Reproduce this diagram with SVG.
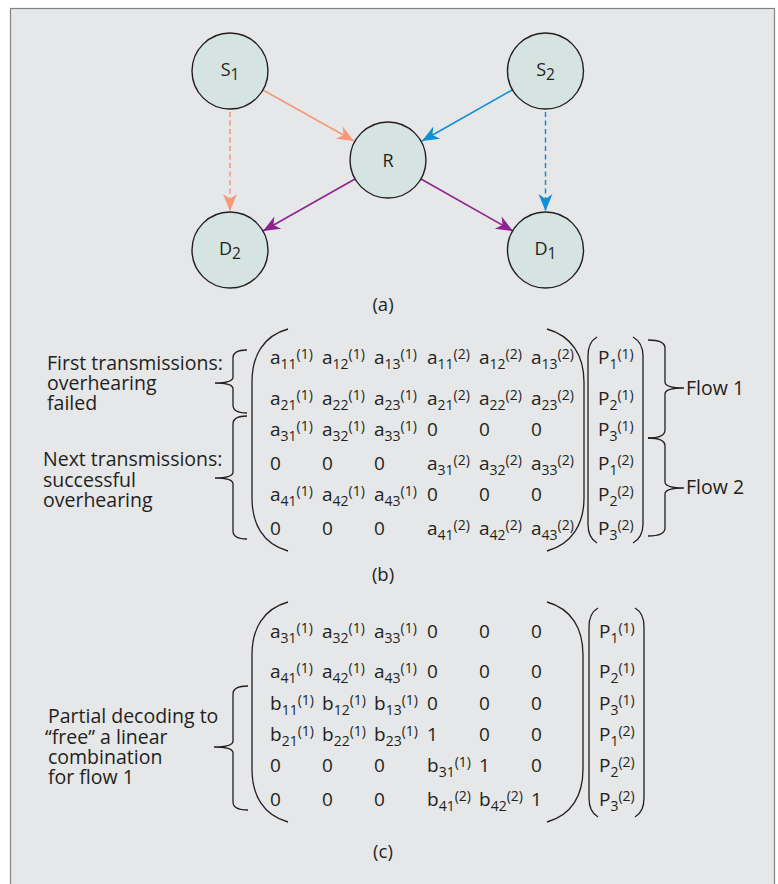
<svg xmlns="http://www.w3.org/2000/svg" width="778" height="884" viewBox="0 0 778 884">
  <style>
    text { font-family: "Open Sans", "Noto Sans", "Liberation Sans", sans-serif; fill: #231f20; }
    .lbl { font-size: 19.5px; }
    .cap { font-size: 18.5px; }
    .nl { font-size: 18px; }
    .ns { font-size: 15.5px; }
    .m { font-size: 19px; }
    .s { font-size: 14px; }
    .node { fill: #d6e4e1; stroke: #231f20; stroke-width: 1.4; }
    .br { fill: none; stroke: #231f20; stroke-width: 1.3; }
    .e { fill: none; stroke-width: 1.5; }
    .dash { stroke-dasharray: 5 3.5; }
  </style>
  <defs>
    <marker id="ah-salmon" viewBox="-18 -8 20 16" refX="0" refY="0" markerWidth="20" markerHeight="16" markerUnits="userSpaceOnUse" orient="auto">
      <path d="M0,0 L-17,-7 L-12,0 L-17,7 Z" fill="#f7977a"/>
    </marker>
    <marker id="ah-blue" viewBox="-18 -8 20 16" refX="0" refY="0" markerWidth="20" markerHeight="16" markerUnits="userSpaceOnUse" orient="auto">
      <path d="M0,0 L-17,-7 L-12,0 L-17,7 Z" fill="#0e8fd6"/>
    </marker>
    <marker id="ah-purple" viewBox="-18 -8 20 16" refX="0" refY="0" markerWidth="20" markerHeight="16" markerUnits="userSpaceOnUse" orient="auto">
      <path d="M0,0 L-17,-7 L-12,0 L-17,7 Z" fill="#8e2290"/>
    </marker>
  </defs>

  <!-- panel -->
  <rect x="10.5" y="8.5" width="764" height="900" fill="#e6e7e8" stroke="#808285" stroke-width="1.2"/>

  <!-- (a) network -->
  <g id="connectors">
    <line class="e" stroke="#f7977a" x1="263" y1="90" x2="354" y2="141" marker-end="url(#ah-salmon)"/>
    <line class="e dash" stroke="#f7977a" x1="230" y1="112" x2="230" y2="211" marker-end="url(#ah-salmon)"/>
    <line class="e" stroke="#0e8fd6" x1="512" y1="90" x2="422" y2="141" marker-end="url(#ah-blue)"/>
    <line class="e dash" stroke="#0e8fd6" x1="545.5" y1="112" x2="545.5" y2="211" marker-end="url(#ah-blue)"/>
    <line class="e" stroke="#8e2290" x1="355" y1="179" x2="263" y2="231" marker-end="url(#ah-purple)"/>
    <line class="e" stroke="#8e2290" x1="421" y1="179" x2="513" y2="231" marker-end="url(#ah-purple)"/>
  </g>
  <g id="S1">
    <circle class="node" cx="230" cy="71" r="38"/>
    <text class="nl" x="230" y="76" text-anchor="middle">S<tspan class="ns" dy="4">1</tspan></text>
  </g>
  <g id="S2">
    <circle class="node" cx="545.5" cy="71" r="38"/>
    <text class="nl" x="545.5" y="76" text-anchor="middle">S<tspan class="ns" dy="4">2</tspan></text>
  </g>
  <g id="R">
    <circle class="node" cx="388" cy="160" r="38"/>
    <text class="nl" x="388" y="166.5" text-anchor="middle">R</text>
  </g>
  <g id="D2">
    <circle class="node" cx="230" cy="250" r="38"/>
    <text class="nl" x="230" y="255" text-anchor="middle">D<tspan class="ns" dy="4">2</tspan></text>
  </g>
  <g id="D1">
    <circle class="node" cx="545.5" cy="250" r="38"/>
    <text class="nl" x="545.5" y="255" text-anchor="middle">D<tspan class="ns" dy="4">1</tspan></text>
  </g>
  <text class="cap" x="383" y="311" text-anchor="middle">(a)</text>

  <!-- (b) coding matrix -->
  <g id="matrix-b">
    <path class="br" d="M288,329 C263,336 252,356 252,382 L252,498 C252,524 263,544 288,551"/>
    <path class="br" d="M547,329 C572,336 584,356 584,382 L584,498 C584,524 572,544 547,551"/>
    <path class="br" d="M597,337 C590,341 588,347 588,356 L588,524 C588,533 590,539 597,543"/>
    <path class="br" d="M633,337 C640,341 643,347 643,356 L643,524 C643,533 640,539 633,543"/>

    <g class="m">
      <text x="270" y="364">a<tspan class="s" dy="5">11</tspan><tspan class="s" dy="-10">(1)</tspan></text>
      <text x="322" y="364">a<tspan class="s" dy="5">12</tspan><tspan class="s" dy="-10">(1)</tspan></text>
      <text x="374" y="364">a<tspan class="s" dy="5">13</tspan><tspan class="s" dy="-10">(1)</tspan></text>
      <text x="427" y="364">a<tspan class="s" dy="5">11</tspan><tspan class="s" dy="-10">(2)</tspan></text>
      <text x="479" y="364">a<tspan class="s" dy="5">12</tspan><tspan class="s" dy="-10">(2)</tspan></text>
      <text x="531" y="364">a<tspan class="s" dy="5">13</tspan><tspan class="s" dy="-10">(2)</tspan></text>

      <text x="270" y="405">a<tspan class="s" dy="5">21</tspan><tspan class="s" dy="-10">(1)</tspan></text>
      <text x="322" y="405">a<tspan class="s" dy="5">22</tspan><tspan class="s" dy="-10">(1)</tspan></text>
      <text x="374" y="405">a<tspan class="s" dy="5">23</tspan><tspan class="s" dy="-10">(1)</tspan></text>
      <text x="427" y="405">a<tspan class="s" dy="5">21</tspan><tspan class="s" dy="-10">(2)</tspan></text>
      <text x="479" y="405">a<tspan class="s" dy="5">22</tspan><tspan class="s" dy="-10">(2)</tspan></text>
      <text x="531" y="405">a<tspan class="s" dy="5">23</tspan><tspan class="s" dy="-10">(2)</tspan></text>

      <text x="270" y="436">a<tspan class="s" dy="5">31</tspan><tspan class="s" dy="-10">(1)</tspan></text>
      <text x="322" y="436">a<tspan class="s" dy="5">32</tspan><tspan class="s" dy="-10">(1)</tspan></text>
      <text x="374" y="436">a<tspan class="s" dy="5">33</tspan><tspan class="s" dy="-10">(1)</tspan></text>
      <text x="427" y="436">0</text>
      <text x="479" y="436">0</text>
      <text x="531" y="436">0</text>

      <text x="270" y="470">0</text>
      <text x="322" y="470">0</text>
      <text x="374" y="470">0</text>
      <text x="427" y="470">a<tspan class="s" dy="5">31</tspan><tspan class="s" dy="-10">(2)</tspan></text>
      <text x="479" y="470">a<tspan class="s" dy="5">32</tspan><tspan class="s" dy="-10">(2)</tspan></text>
      <text x="531" y="470">a<tspan class="s" dy="5">33</tspan><tspan class="s" dy="-10">(2)</tspan></text>

      <text x="270" y="501">a<tspan class="s" dy="5">41</tspan><tspan class="s" dy="-10">(1)</tspan></text>
      <text x="322" y="501">a<tspan class="s" dy="5">42</tspan><tspan class="s" dy="-10">(1)</tspan></text>
      <text x="374" y="501">a<tspan class="s" dy="5">43</tspan><tspan class="s" dy="-10">(1)</tspan></text>
      <text x="427" y="501">0</text>
      <text x="479" y="501">0</text>
      <text x="531" y="501">0</text>

      <text x="270" y="535">0</text>
      <text x="322" y="535">0</text>
      <text x="374" y="535">0</text>
      <text x="427" y="535">a<tspan class="s" dy="5">41</tspan><tspan class="s" dy="-10">(2)</tspan></text>
      <text x="479" y="535">a<tspan class="s" dy="5">42</tspan><tspan class="s" dy="-10">(2)</tspan></text>
      <text x="531" y="535">a<tspan class="s" dy="5">43</tspan><tspan class="s" dy="-10">(2)</tspan></text>

      <text x="598" y="364">P<tspan class="s" dy="5">1</tspan><tspan class="s" dy="-10">(1)</tspan></text>
      <text x="598" y="405">P<tspan class="s" dy="5">2</tspan><tspan class="s" dy="-10">(1)</tspan></text>
      <text x="598" y="436">P<tspan class="s" dy="5">3</tspan><tspan class="s" dy="-10">(1)</tspan></text>
      <text x="598" y="470">P<tspan class="s" dy="5">1</tspan><tspan class="s" dy="-10">(2)</tspan></text>
      <text x="598" y="501">P<tspan class="s" dy="5">2</tspan><tspan class="s" dy="-10">(2)</tspan></text>
      <text x="598" y="535">P<tspan class="s" dy="5">3</tspan><tspan class="s" dy="-10">(2)</tspan></text>
    </g>
  </g>

  <g id="note-first">
    <path class="br" d="M247,350 Q233,350 233,358 L233,377 Q233,383 215,383 Q233,383 233,389 L233,405 Q233,413 247,413"/>
    <text class="lbl" x="47" y="370">First transmissions:</text>
    <text class="lbl" x="47" y="390">overhearing</text>
    <text class="lbl" x="47" y="410">failed</text>
  </g>
  <g id="note-next">
    <path class="br" d="M247,416 Q233,416 233,424 L233,472 Q233,478 215,478 Q233,478 233,484 L233,531 Q233,539 247,539"/>
    <text class="lbl" x="43" y="466">Next transmissions:</text>
    <text class="lbl" x="43" y="487">successful</text>
    <text class="lbl" x="43" y="507">overhearing</text>
  </g>
  <g id="flow1">
    <path class="br" d="M648,340 Q665,340 665,348 L665,382 Q665,388 684,388 Q665,388 665,394 L665,430 Q665,438 648,438"/>
    <text class="lbl" x="686" y="395">Flow 1</text>
  </g>
  <g id="flow2">
    <path class="br" d="M648,438 Q665,438 665,446 L665,482 Q665,488 684,488 Q665,488 665,494 L665,528 Q665,536 648,536"/>
    <text class="lbl" x="686" y="494">Flow 2</text>
  </g>
  <text class="cap" x="383" y="581" text-anchor="middle">(b)</text>

  <!-- (c) after partial decoding -->
  <g id="matrix-c">
    <path class="br" d="M288,602 C263,609 252,629 252,655 L252,769 C252,795 263,815 288,822"/>
    <path class="br" d="M547,602 C572,609 583,629 583,655 L583,769 C583,795 572,815 547,822"/>
    <path class="br" d="M598,608 C591,612 589,618 589,627 L589,798 C589,807 591,813 598,817"/>
    <path class="br" d="M635,608 C642,612 644,618 644,627 L644,798 C644,807 642,813 635,817"/>

    <g class="m">
      <text x="270" y="638">a<tspan class="s" dy="5">31</tspan><tspan class="s" dy="-10">(1)</tspan></text>
      <text x="322" y="638">a<tspan class="s" dy="5">32</tspan><tspan class="s" dy="-10">(1)</tspan></text>
      <text x="374" y="638">a<tspan class="s" dy="5">33</tspan><tspan class="s" dy="-10">(1)</tspan></text>
      <text x="427" y="638">0</text>
      <text x="479" y="638">0</text>
      <text x="531" y="638">0</text>

      <text x="270" y="678">a<tspan class="s" dy="5">41</tspan><tspan class="s" dy="-10">(1)</tspan></text>
      <text x="322" y="678">a<tspan class="s" dy="5">42</tspan><tspan class="s" dy="-10">(1)</tspan></text>
      <text x="374" y="678">a<tspan class="s" dy="5">43</tspan><tspan class="s" dy="-10">(1)</tspan></text>
      <text x="427" y="678">0</text>
      <text x="479" y="678">0</text>
      <text x="531" y="678">0</text>

      <text x="270" y="710">b<tspan class="s" dy="5">11</tspan><tspan class="s" dy="-10">(1)</tspan></text>
      <text x="322" y="710">b<tspan class="s" dy="5">12</tspan><tspan class="s" dy="-10">(1)</tspan></text>
      <text x="374" y="710">b<tspan class="s" dy="5">13</tspan><tspan class="s" dy="-10">(1)</tspan></text>
      <text x="427" y="710">0</text>
      <text x="479" y="710">0</text>
      <text x="531" y="710">0</text>

      <text x="270" y="741">b<tspan class="s" dy="5">21</tspan><tspan class="s" dy="-10">(1)</tspan></text>
      <text x="322" y="741">b<tspan class="s" dy="5">22</tspan><tspan class="s" dy="-10">(1)</tspan></text>
      <text x="374" y="741">b<tspan class="s" dy="5">23</tspan><tspan class="s" dy="-10">(1)</tspan></text>
      <text x="427" y="741">1</text>
      <text x="479" y="741">0</text>
      <text x="531" y="741">0</text>

      <text x="270" y="772">0</text>
      <text x="322" y="772">0</text>
      <text x="374" y="772">0</text>
      <text x="427" y="772">b<tspan class="s" dy="5">31</tspan><tspan class="s" dy="-10">(1)</tspan></text>
      <text x="479" y="772">1</text>
      <text x="531" y="772">0</text>

      <text x="270" y="806">0</text>
      <text x="322" y="806">0</text>
      <text x="374" y="806">0</text>
      <text x="427" y="806">b<tspan class="s" dy="5">41</tspan><tspan class="s" dy="-10">(2)</tspan></text>
      <text x="479" y="806">b<tspan class="s" dy="5">42</tspan><tspan class="s" dy="-10">(2)</tspan></text>
      <text x="531" y="806">1</text>

      <text x="599" y="638">P<tspan class="s" dy="5">1</tspan><tspan class="s" dy="-10">(1)</tspan></text>
      <text x="599" y="678">P<tspan class="s" dy="5">2</tspan><tspan class="s" dy="-10">(1)</tspan></text>
      <text x="599" y="710">P<tspan class="s" dy="5">3</tspan><tspan class="s" dy="-10">(1)</tspan></text>
      <text x="599" y="741">P<tspan class="s" dy="5">1</tspan><tspan class="s" dy="-10">(2)</tspan></text>
      <text x="599" y="772">P<tspan class="s" dy="5">2</tspan><tspan class="s" dy="-10">(2)</tspan></text>
      <text x="599" y="806">P<tspan class="s" dy="5">3</tspan><tspan class="s" dy="-10">(2)</tspan></text>
    </g>
  </g>

  <g id="note-partial">
    <path class="br" d="M248,686 Q233,686 233,694 L233,741 Q233,747 214,747 Q233,747 233,753 L233,802 Q233,810 248,810"/>
    <text class="lbl" x="48" y="723">Partial decoding to</text>
    <text class="lbl" x="45" y="744">“free” a linear</text>
    <text class="lbl" x="48" y="764">combination</text>
    <text class="lbl" x="48" y="784">for flow 1</text>
  </g>
  <text class="cap" x="383" y="858" text-anchor="middle">(c)</text>
</svg>
